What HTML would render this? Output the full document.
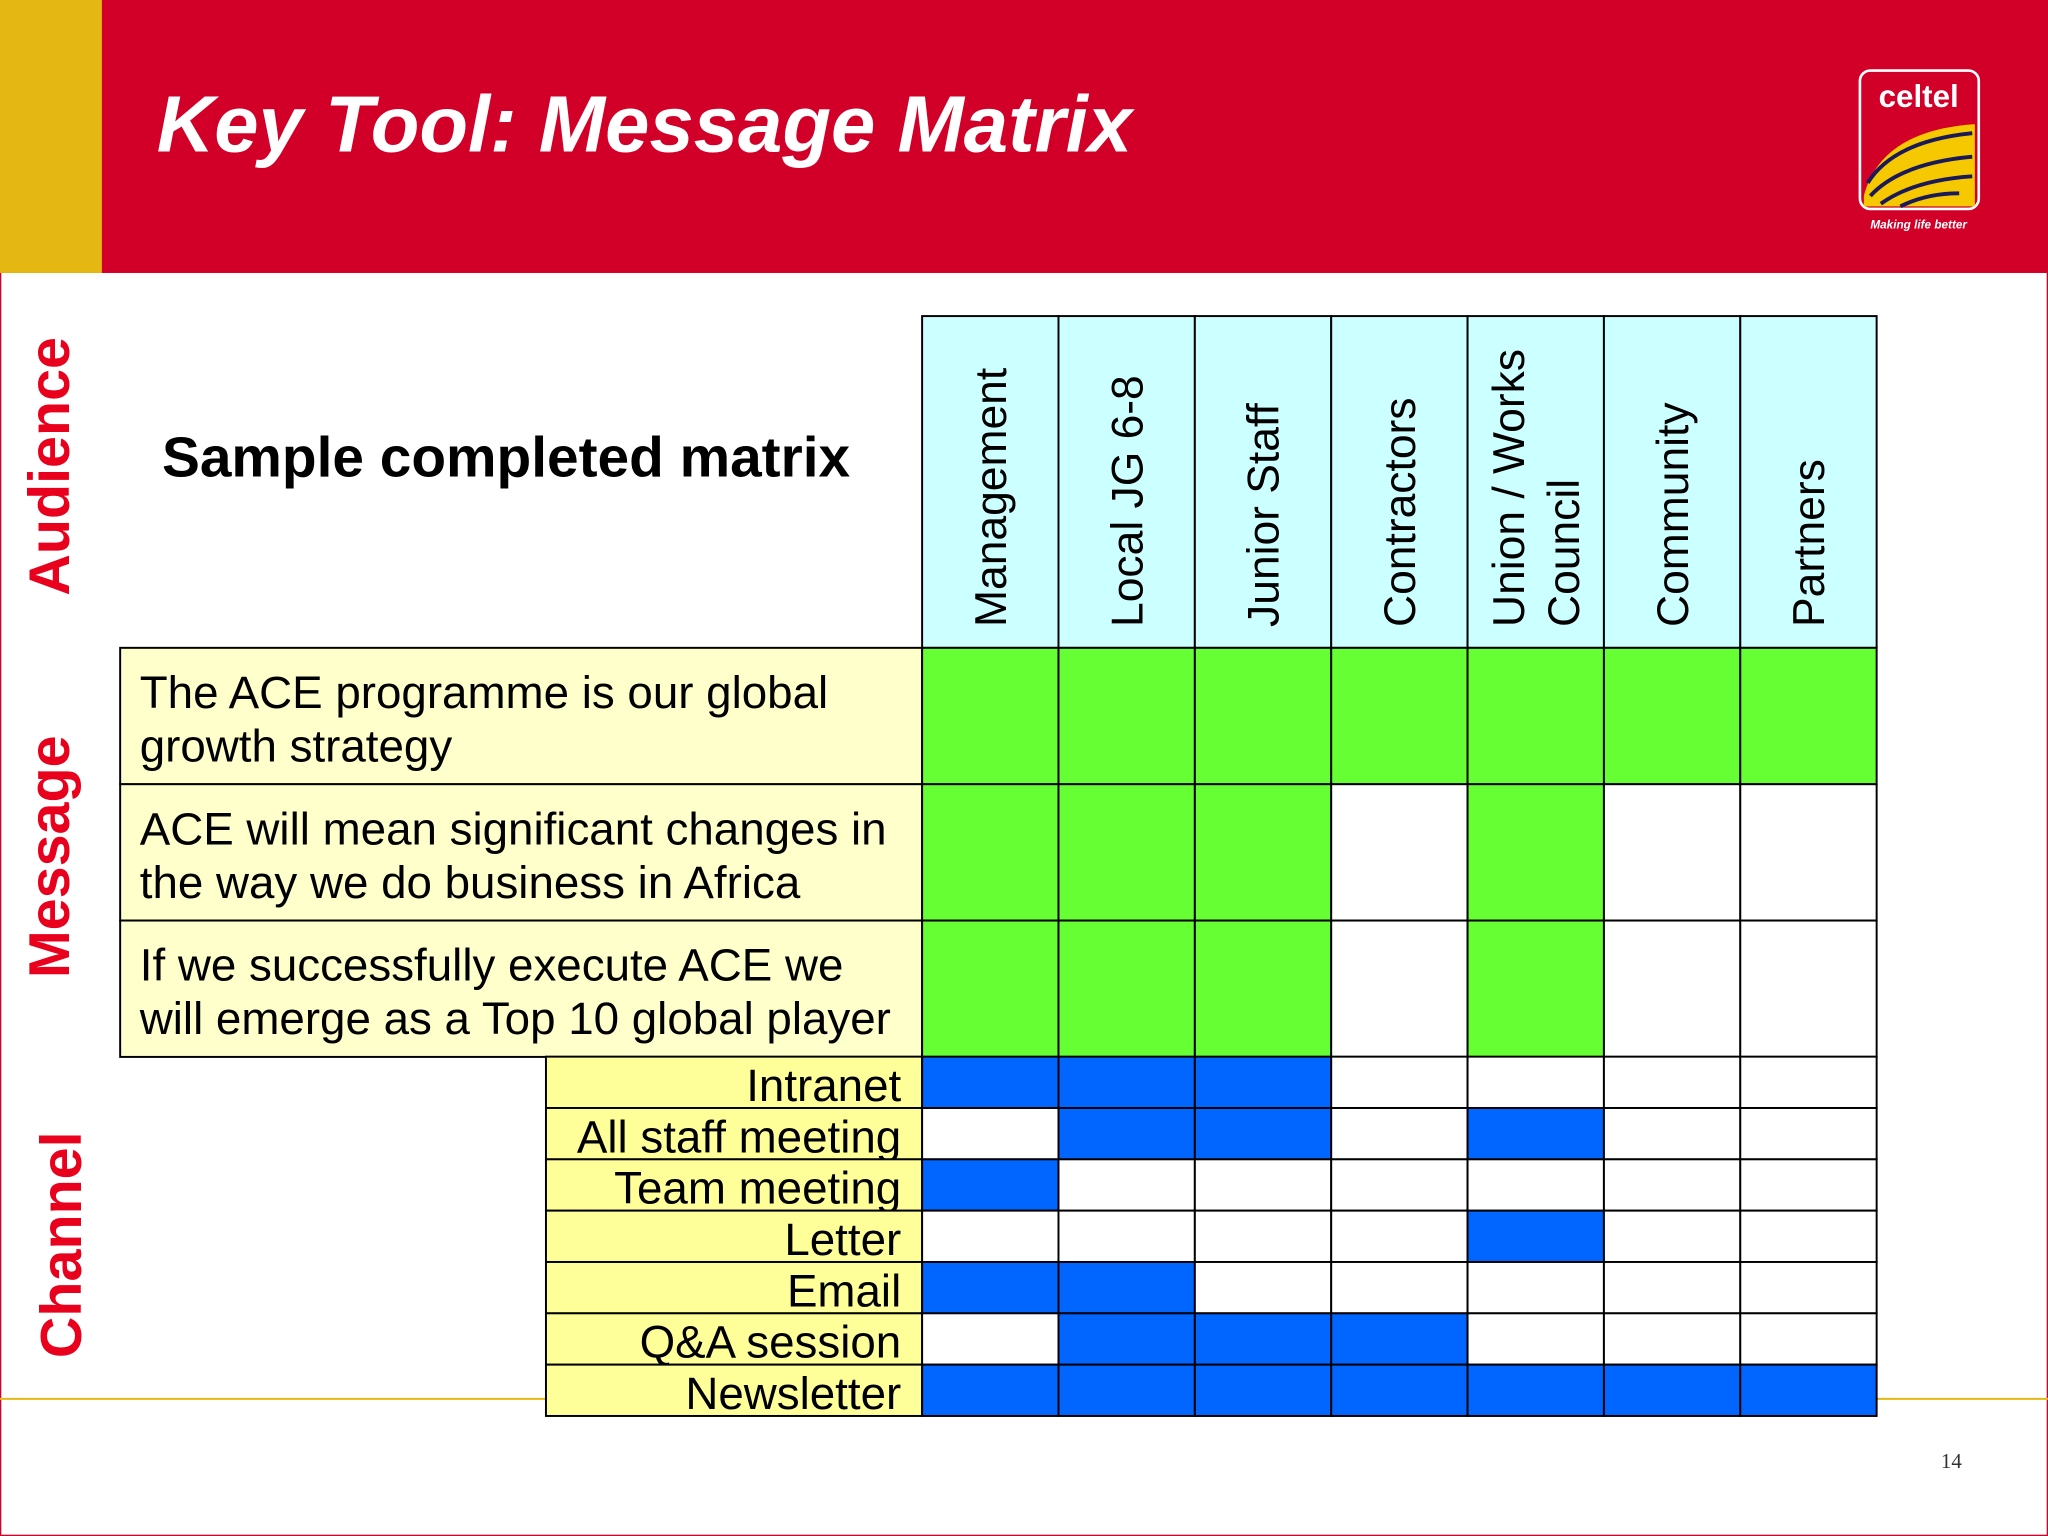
<!DOCTYPE html>
<html><head><meta charset="utf-8"><style>
html,body{margin:0;padding:0;background:#fff;}
svg{display:block;font-family:"Liberation Sans",Arial,sans-serif;}
</style></head><body>
<svg id="s" width="2048" height="1536" viewBox="0 0 1568 1176" xmlns="http://www.w3.org/2000/svg">
<rect x="0" y="0" width="1568" height="1176" fill="#fff" stroke="#d0002a" stroke-width="2"/>
<rect x="0" y="0" width="1568" height="209" fill="#d20028"/>
<rect x="0" y="0" width="78" height="209" fill="#e5b713"/>
<text x="120" y="116" font-size="61" font-weight="bold" font-style="italic" fill="#fff">Key Tool: Message Matrix</text>
<g>
<rect x="1424" y="54" width="91" height="106" rx="8" fill="#d20028" stroke="#fff" stroke-width="2"/>
<path d="M1427 150 Q1440 100 1512 95 L1512 158 L1427 158 Z" fill="#f6c800"/>
<path d="M1430 140 Q1450 108 1510 102 M1432 150 Q1455 125 1510 120 M1440 156 Q1465 138 1510 135 M1455 158 Q1475 148 1500 148" stroke="#1a1a5a" stroke-width="3" fill="none"/>
<text x="1469" y="82" font-size="24" font-weight="bold" fill="#fff" text-anchor="middle">celtel</text>
<text x="1469" y="175" font-size="9" font-weight="bold" font-style="italic" fill="#fff" text-anchor="middle">Making life better</text>
</g>
<line x1="0" y1="1071" x2="1568" y2="1071" stroke="#e5b713" stroke-width="1.5"/>
<text x="1502" y="1124" font-size="16" font-family="Liberation Serif,serif" text-anchor="end" fill="#333">14</text>
<text transform="translate(53,357) rotate(-90)" font-size="44" font-weight="bold" fill="#e8001c" text-anchor="middle">Audience</text>
<text transform="translate(53,656) rotate(-90)" font-size="44" font-weight="bold" fill="#e8001c" text-anchor="middle">Message</text>
<text transform="translate(62,953) rotate(-90)" font-size="44" font-weight="bold" fill="#e8001c" text-anchor="middle">Channel</text>
<text x="124" y="365" font-size="43.5" font-weight="bold" fill="#000">Sample completed matrix</text>
<g id="grid"></g>
</svg>
<script>
const audiences=[["Management"],["Local JG 6-8"],["Junior Staff"],["Contractors"],["Union / Works","Council"],["Community"],["Partners"]];
const messages=[["The ACE programme is our global","growth strategy"],["ACE will mean significant changes in","the way we do business in Africa"],["If we successfully execute ACE we","will emerge as a Top 10 global player"]];
const messageFlags=[[1,1,1,1,1,1,1],[1,1,1,0,1,0,0],[1,1,1,0,1,0,0]];
const channels=["Intranet","All staff meeting","Team meeting","Letter","Email","Q&A session","Newsletter"];
const channelFlags=[[1,1,1,0,0,0,0],[0,1,1,0,1,0,0],[1,0,0,0,0,0,0],[0,0,0,0,1,0,0],[1,1,0,0,0,0,0],[0,1,1,1,0,0,0],[1,1,1,1,1,1,1]];
const NS="http://www.w3.org/2000/svg";
const g=document.getElementById('grid');
const x0=706,cw=104.4,hy=242,hh=254,my=496,mh=104.4,cy=809,ch=39.3;
function colX(i){return x0+i*cw;}
function el(t,a){const e=document.createElementNS(NS,t);for(const k in a)e.setAttribute(k,a[k]);g.appendChild(e);return e;}
audiences.forEach((a,i)=>{
 const r=el('rect',{x:colX(i),y:hy,width:cw,height:hh,fill:'#ccffff',stroke:'#000','stroke-width':1.5});
 
 
 const cx=colX(i)+cw/2, n=a.length;
 a.forEach((line,j)=>{
  const lx=cx+(j-(n-1)/2)*42+12;
  const t=el('text',{transform:`translate(${lx},480) rotate(-90)`,'font-size':34,fill:'#000'});
  t.textContent=line;
  
  
 });
});
messages.forEach((m,r)=>{
 const y=my+r*mh;
 const c=el('rect',{x:92,y:y,width:x0-92,height:mh,fill:'#ffffcc',stroke:'#000','stroke-width':1.5});
 
 
 m.forEach((line,j)=>{
  const t=el('text',{x:107,y:y+46+j*41,'font-size':35,fill:'#000'});
  t.textContent=line;
  
  
 });
 messageFlags[r].forEach((f,i)=>{
  const b=el('rect',{x:colX(i),y:y,width:cw,height:mh,fill:f?'#66ff33':'#fff',stroke:'#000','stroke-width':1.5});
  
  
 });
});
channels.forEach((c,r)=>{
 const y=cy+r*ch;
 const lc=el('rect',{x:418,y:y,width:x0-418,height:ch,fill:'#ffff99',stroke:'#000','stroke-width':1.5});
 
 
 const t=el('text',{x:690,y:y+34,'font-size':35,fill:'#000','text-anchor':'end'});
 t.textContent=c;
 
 
 channelFlags[r].forEach((f,i)=>{
  const b=el('rect',{x:colX(i),y:y,width:cw,height:ch,fill:f?'#0066ff':'#fff',stroke:'#000','stroke-width':1.5});
  
  
 });
});
</script>
</body></html>
